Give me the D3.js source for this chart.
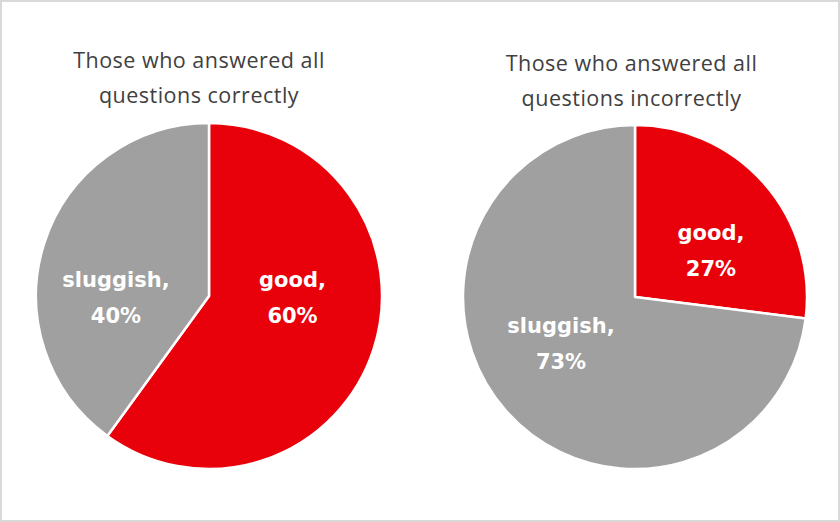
<!DOCTYPE html>
<html>
<head>
<meta charset="utf-8">
<script src="https://cdn.jsdelivr.net/npm/d3@7"></script>
<style>
  html, body { margin: 0; padding: 0; background: #fff; }
</style>
</head>
<body>
<div id="chart"></div>
<script>
var vWidth = 840;
var vHeight = 522;

// data
var categories = ["good", "sluggish"];
var correctValues = [60, 40];
var incorrectValues = [27, 73];
var titles = [
  ["Those who answered all", "questions correctly"],
  ["Those who answered all", "questions incorrectly"]
];

var colors = d3.scaleOrdinal()
  .domain(categories)
  .range(["#e8000b", "#a0a0a0"]);

// layout of the two pies (nudge moves each label off its centroid, like Excel's best fit)
var pies = [
  { values: correctValues, title: titles[0], cx: 209, cy: 296, r: 173, titleX: 199, titleY: 68,
    nudge: [[-3.7, -20.3], [-5.8, 36.3]] },
  { values: incorrectValues, title: titles[1], cx: 635, cy: 297, r: 172, titleX: 631.5, titleY: 71,
    nudge: [[7.6, 20.3], [-5.6, -7.3]] }
];

var svg = d3.select("#chart")
  .append("svg")
  .attr("width", vWidth)
  .attr("height", vHeight);

// frame
svg.append("rect")
  .attr("x", 1).attr("y", 1)
  .attr("width", vWidth - 2).attr("height", vHeight - 2)
  .attr("fill", "#fff")
  .attr("stroke", "#d9d9d9")
  .attr("stroke-width", 2);

var pie = d3.pie().sort(null).value(function (d) { return d.value; });

pies.forEach(function (p) {
  var data = categories.map(function (c, i) { return { name: c, value: p.values[i] }; });
  var arcs = pie(data);

  var arc = d3.arc().innerRadius(0).outerRadius(p.r);
  var labelArc = d3.arc().innerRadius(p.r * 0.53).outerRadius(p.r * 0.53);

  var g = svg.append("g").attr("transform", "translate(" + p.cx + "," + p.cy + ")");

  g.selectAll("path")
    .data(arcs)
    .enter()
    .append("path")
    .attr("d", arc)
    .attr("fill", function (d) { return colors(d.data.name); })
    .attr("stroke", "#fff")
    .attr("stroke-width", 2.5)
    .attr("stroke-linejoin", "round");

  var labels = g.selectAll(".lbl")
    .data(arcs)
    .enter()
    .append("text")
    .attr("class", "lbl")
    .attr("text-anchor", "middle")
    .attr("font-family", "'DejaVu Sans', sans-serif")
    .attr("font-weight", "bold")
    .attr("font-size", 21)
    .attr("fill", "#fff")
    .attr("transform", function (d, i) {
      var c = labelArc.centroid(d);
      return "translate(" + (c[0] + p.nudge[i][0]) + "," + (c[1] + p.nudge[i][1]) + ")";
    });

  labels.append("tspan")
    .attr("x", 0).attr("y", -17)
    .text(function (d) { return d.data.name + ","; });
  labels.append("tspan")
    .attr("x", 0).attr("y", 19)
    .text(function (d) { return d.data.value + "%"; });

  var t = svg.append("text")
    .attr("text-anchor", "middle")
    .attr("font-family", "'Open Sans', sans-serif")
    .attr("font-size", 21.5)
    .attr("fill", "#404040")
    .attr("letter-spacing", 0.5)
    .attr("transform", "translate(" + p.titleX + "," + p.titleY + ")");
  t.selectAll("tspan")
    .data(p.title)
    .enter()
    .append("tspan")
    .attr("x", 0)
    .attr("y", function (d, i) { return i * 35; })
    .text(function (d) { return d; });
});
</script>
</body>
</html>
